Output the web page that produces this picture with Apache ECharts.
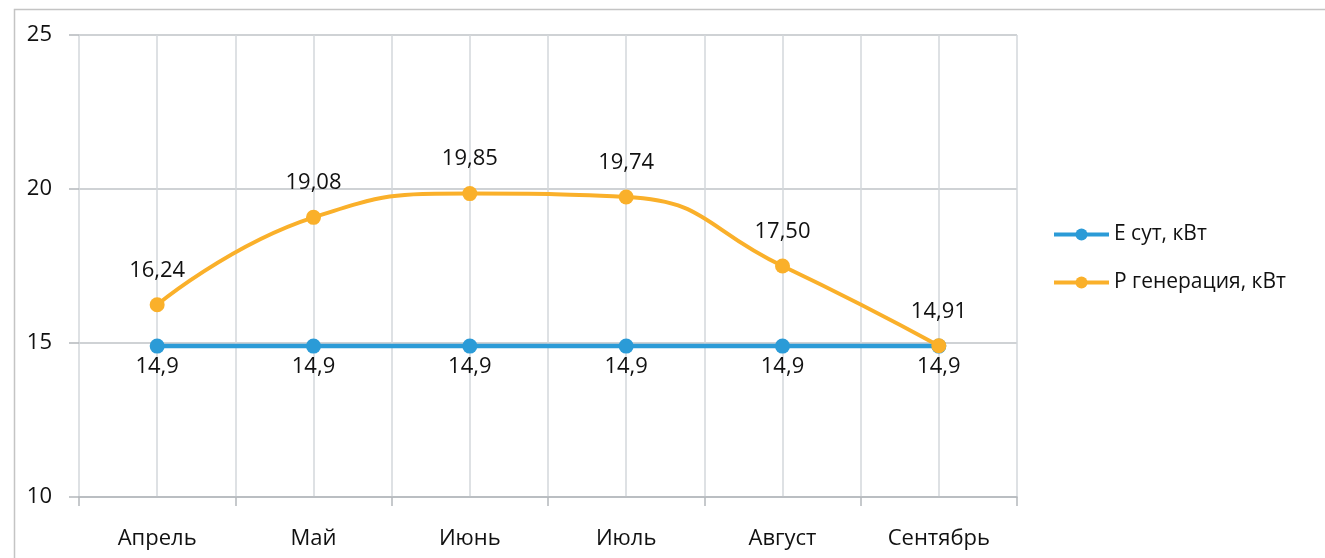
<!DOCTYPE html>
<html>
<head>
<meta charset="utf-8">
<style>
  html, body { margin: 0; padding: 0; background: #fff; }
  #chart { width: 1325px; height: 558px; }
</style>
<script src="https://cdn.jsdelivr.net/npm/echarts@6/dist/echarts.min.js"></script>
</head>
<body>
<div id="chart"></div>
<script>
// Месяцы и значения
const months = ['Апрель', 'Май', 'Июнь', 'Июль', 'Август', 'Сентябрь'];
const eSut = [14.9, 14.9, 14.9, 14.9, 14.9, 14.9];
const pGen = [16.24, 19.08, 19.85, 19.74, 17.50, 14.91];
const seriesNames = ['E сут, кВт', 'P генерация, кВт'];

const FONT = '"Open Sans", "Noto Sans", sans-serif';
const FS = 22;
const BLUE = '#2b9bd7';
const ORANGE = '#fab02a';
const GRID = '#d3d7db';
const TXT = '#111';

const chart = echarts.init(document.getElementById('chart'));

const comma = (v, digits) => (digits == null ? String(v) : v.toFixed(digits)).replace('.', ',');

chart.setOption({
  animation: false,
  textStyle: { fontFamily: FONT },
  graphic: [{
    type: 'rect',
    shape: { x: 14.5, y: 9.5, width: 1400, height: 600 },
    style: { fill: 'none', stroke: '#c4c4c4', lineWidth: 1.5 },
    silent: true
  }],
  grid: { left: 79, right: 308, top: 35, bottom: 61 },
  legend: {
    orient: 'vertical',
    left: 1047,
    top: 219,
    itemWidth: 55,
    itemHeight: 15,
    itemGap: 27,
    lineStyle: { width: 4 },
    textStyle: { fontFamily: FONT, fontSize: FS - 1, color: TXT },
    data: seriesNames
  },
  xAxis: [{
    type: 'category',
    data: months,
    boundaryGap: true,
    axisLine: { lineStyle: { color: '#b4b8bc', width: 1.5 } },
    axisTick: { show: true, length: 9, lineStyle: { color: '#b4b8bc', width: 1.5 } },
    axisLabel: { fontFamily: FONT, fontSize: FS, color: TXT, margin: 31 },
    splitLine: { show: false }
  }, {
    // вспомогательная ось: вертикальная сетка по границам и серединам месяцев
    type: 'value',
    min: 0,
    max: 6,
    interval: 0.5,
    show: true,
    axisLine: { show: false },
    axisTick: { show: false },
    axisLabel: { show: false },
    splitLine: { show: true, lineStyle: { color: GRID, width: 1.5 } }
  }],
  yAxis: {
    type: 'value',
    min: 10,
    max: 25,
    interval: 5,
    axisLine: { show: false },
    axisTick: { show: true, length: 10, lineStyle: { color: '#b4b8bc', width: 1.5 } },
    axisLabel: { fontFamily: FONT, fontSize: FS, color: TXT, margin: 27 },
    splitLine: { show: true, lineStyle: { color: '#bfc3c7', width: 1.5 } }
  },
  series: [{
    name: seriesNames[0],
    type: 'line',
    data: eSut,
    xAxisIndex: 0,
    z: 3,
    symbol: 'circle',
    symbolSize: 15,
    lineStyle: { color: BLUE, width: 4.5 },
    itemStyle: { color: BLUE },
    label: {
      show: true,
      position: 'bottom',
      distance: 2,
      fontFamily: FONT,
      fontSize: FS,
      color: TXT,
      formatter: p => comma(p.value)
    }
  }, {
    name: seriesNames[1],
    type: 'line',
    data: pGen,
    xAxisIndex: 0,
    z: 4,
    smooth: 0.5,
    symbol: 'circle',
    symbolSize: 15,
    lineStyle: { color: ORANGE, width: 4 },
    itemStyle: { color: ORANGE },
    label: {
      show: true,
      position: 'top',
      distance: 16,
      fontFamily: FONT,
      fontSize: FS,
      color: TXT,
      formatter: p => comma(p.value, 2)
    }
  }]
});
</script>
</body>
</html>
